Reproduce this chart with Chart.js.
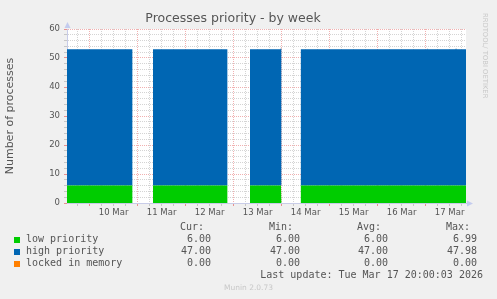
<!DOCTYPE html>
<html lang="en">
<head>
    <meta charset="UTF-8">
    <title>Processes priority - by week</title>
    <script src="https://cdn.jsdelivr.net/npm/chart.js"></script>
    <style>
        body {
            margin: 0;
            background: #f0f0f0;
        }
        #wrap {
            position: relative;
            width: 497px;
            height: 299px;
            overflow: hidden;
        }
        .mono {
            position: absolute;
            font-family: "DejaVu Sans Mono", monospace;
            font-size: 10px;
            line-height: 12px;
            color: #555;
            white-space: pre;
        }
        .right { text-align: right; }
        .sq {
            position: absolute;
            width: 6px;
            height: 6px;
        }
        #munin {
            position: absolute;
            left: 0;
            width: 497px;
            top: 283px;
            text-align: center;
            font-family: "DejaVu Sans", sans-serif;
            font-size: 7.5px;
            color: #c8c8c8;
        }
        #rrd {
            position: absolute;
            left: 481px;
            top: 13px;
            writing-mode: vertical-rl;
            font-family: "DejaVu Sans", sans-serif;
            font-size: 6.8px;
            color: #c8c8c8;
        }
    </style>
</head>
<body>
<div id="wrap">
    <canvas id="chart" width="497" height="299"></canvas>
    <div id="rrd">RRDTOOL/ TOBI OETIKER</div>
    <div id="legend"></div>
    <div id="munin">Munin 2.0.73</div>
</div>

<script>
    // hours since 10 Mar 00:00, null = no data
    const times          = [-11.3, 21.5, 26, 31.7, 69.0, 74, 80.2, 95.5, 95.7, 96.0, 100, 105.5, 168.8, 169.0, 169.2, 183.0, 183.2, 183.4, 188.2];
    const lowPriority    = [6, 6, null, 6, 6, null, 6, 6, 6, 6, null, 6, 6, 6, 6, 6, 6, 6, 6];
    const highPriority   = [47, 47, null, 47, 47, null, 47, 47, 47.5, 47, null, 47, 47, 47.4, 47, 47, 47.4, 47, 47];
    const lockedInMemory = [0, 0, null, 0, 0, null, 0, 0, 0, 0, null, 0, 0, 0, 0, 0, 0, 0, 0];

    const dayLabels = ['10 Mar', '11 Mar', '12 Mar', '13 Mar', '14 Mar', '15 Mar', '16 Mar', '17 Mar'];
    const xMin = -11.3, xMax = 188.2;

    const series = [
        { name: 'low priority', color: '#00cc00', data: lowPriority, cur: '6.00', min: '6.00', avg: '6.00', max: '6.99' },
        { name: 'high priority', color: '#0066b3', data: highPriority, cur: '47.00', min: '47.00', avg: '47.00', max: '47.98' },
        { name: 'locked in memory', color: '#ff8000', data: lockedInMemory, cur: '0.00', min: '0.00', avg: '0.00', max: '0.00' }
    ];

    const gridMinor = 'rgba(170,170,170,0.5)';
    const gridMajor = 'rgba(225,80,80,0.45)';
    const tickFont = { family: 'DejaVu Sans', size: 8.5 };

    const datasets = series.map((s, i) => ({
        label: s.name,
        data: times.map((t, j) => ({ x: t, y: s.data[j] })),
        backgroundColor: s.color,
        borderColor: 'transparent',
        borderWidth: 0,
        pointRadius: 0,
        tension: 0,
        fill: i === 0 ? 'origin' : '-1'
    }));

    const plotBg = {
        id: 'plotBg',
        beforeDraw(chart) {
            const a = chart.chartArea;
            const ctx = chart.ctx;
            ctx.save();
            ctx.fillStyle = '#ffffff';
            ctx.fillRect(a.left, a.top, a.right - a.left, a.bottom - a.top);
            ctx.restore();
        },
        afterDraw(chart) {
            const a = chart.chartArea;
            const ctx = chart.ctx;
            ctx.save();
            ctx.fillStyle = '#c4ccee';
            ctx.beginPath();
            ctx.moveTo(a.left - 2.5, a.top - 1);
            ctx.lineTo(a.left + 3.5, a.top - 1);
            ctx.lineTo(a.left + 0.5, a.top - 7);
            ctx.closePath();
            ctx.fill();
            ctx.beginPath();
            ctx.moveTo(a.right + 1, a.bottom - 2.5);
            ctx.lineTo(a.right + 1, a.bottom + 3.5);
            ctx.lineTo(a.right + 7, a.bottom + 0.5);
            ctx.closePath();
            ctx.fill();
            ctx.restore();
        }
    };

    new Chart(document.getElementById('chart'), {
        type: 'line',
        data: { datasets: datasets },
        plugins: [plotBg],
        options: {
            responsive: false,
            animation: false,
            layout: { padding: { left: 0, right: 31, top: 0, bottom: 76 } },
            plugins: {
                legend: { display: false },
                tooltip: { enabled: false },
                title: {
                    display: true,
                    text: 'Processes priority - by week',
                    color: '#555',
                    font: { family: 'DejaVu Sans', size: 12.5, weight: 'normal' },
                    padding: { top: 11, bottom: 3 }
                }
            },
            scales: {
                x: {
                    type: 'linear',
                    min: xMin,
                    max: xMax,
                    z: 1,
                    afterFit: s => { s.height = 20; },
                    afterBuildTicks: s => {
                        const t = [];
                        for (let h = -6; h <= xMax; h += 6) t.push({ value: h });
                        s.ticks = t;
                    },
                    ticks: {
                        autoSkip: false,
                        maxRotation: 0,
                        padding: 2,
                        color: '#555',
                        font: tickFont,
                        callback: v => (v % 24 === 12 ? dayLabels[(v - 12) / 24] : '')
                    },
                    grid: {
                        color: c => (c.tick && c.tick.value % 24 === 0 ? gridMajor : gridMinor),
                        tickColor: c => (c.tick && c.tick.value % 24 === 0 ? 'rgba(225,80,80,0.6)' : 'rgba(170,170,170,0.6)'),
                        tickLength: 3,
                        tickBorderDash: []
                    },
                    border: { color: '#c8cce8', dash: [1, 1] }
                },
                y: {
                    stacked: true,
                    min: 0,
                    max: 60,
                    z: 1,
                    afterFit: s => { s.width = 67; },
                    ticks: {
                        stepSize: 2,
                        autoSkip: false,
                        padding: 4,
                        color: '#555',
                        font: tickFont,
                        callback: v => (v % 10 === 0 ? v : '')
                    },
                    grid: {
                        color: c => (c.tick && c.tick.value % 10 === 0 ? gridMajor : gridMinor),
                        tickColor: c => (c.tick && c.tick.value % 10 === 0 ? 'rgba(225,80,80,0.6)' : 'rgba(170,170,170,0.6)'),
                        tickLength: 3,
                        tickBorderDash: []
                    },
                    border: { color: '#c8cce8', dash: [1, 1] },
                    title: {
                        display: true,
                        text: 'Number of processes',
                        color: '#555',
                        font: { family: 'DejaVu Sans', size: 11 },
                        padding: 4
                    }
                }
            }
        }
    });

    // legend block below the graph
    const legend = document.getElementById('legend');
    const cols = [
        { key: 'cur', head: 'Cur:', headRight: 204, right: 211 },
        { key: 'min', head: 'Min:', headRight: 293, right: 300 },
        { key: 'avg', head: 'Avg:', headRight: 381, right: 388 },
        { key: 'max', head: 'Max:', headRight: 470, right: 477 }
    ];

    function addText(text, top, left, right) {
        const d = document.createElement('div');
        d.className = 'mono';
        d.textContent = text;
        d.style.top = top + 'px';
        if (right !== undefined) {
            d.style.right = (497 - right) + 'px';
            d.classList.add('right');
        } else {
            d.style.left = left + 'px';
        }
        legend.appendChild(d);
    }

    cols.forEach(c => addText(c.head, 221, undefined, c.headRight));
    series.forEach((s, i) => {
        const top = 233 + i * 12;
        const sq = document.createElement('div');
        sq.className = 'sq';
        sq.style.left = '14px';
        sq.style.top = (top + 4) + 'px';
        sq.style.background = s.color;
        legend.appendChild(sq);
        addText(s.name, top, 26);
        cols.forEach(c => addText(s[c.key], top, undefined, c.right));
    });
    addText('Last update: Tue Mar 17 20:00:03 2026', 269, undefined, 483);
</script>
</body>
</html>
